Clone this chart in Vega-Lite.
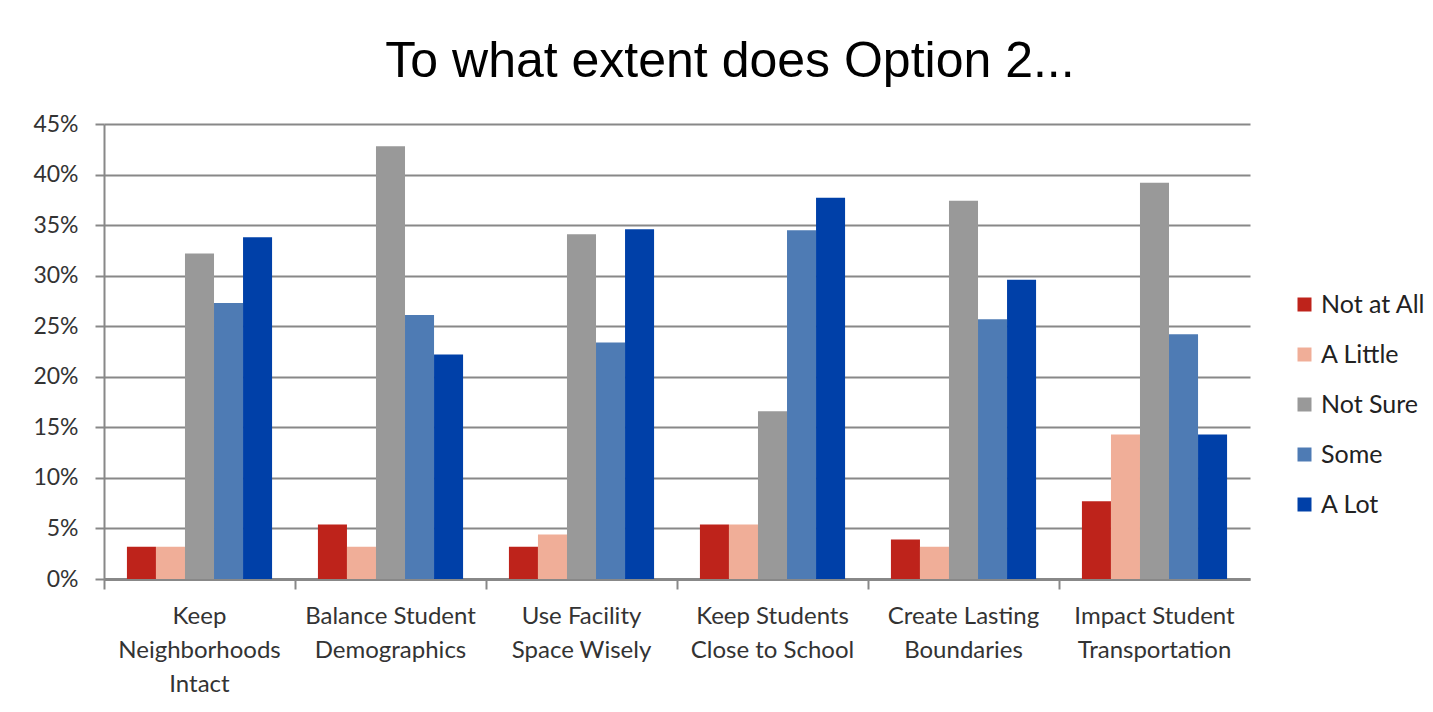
{
  "$schema": "https://vega.github.io/schema/vega-lite/v6.json",
  "autosize": "none",
  "width": 1146,
  "height": 455,
  "padding": {"left": 104, "top": 124, "right": 183, "bottom": 133},
  "background": "white",
  "title": {
    "text": "To what extent does Option 2...",
    "font": "Liberation Sans",
    "fontSize": 50,
    "fontWeight": "normal",
    "color": "#000000",
    "anchor": "middle",
    "dx": 53,
    "offset": 26
  },
  "data": {
    "values": [
      {"category": "Keep Neighborhoods Intact", "response": "Not at All", "value": 0.032},
      {"category": "Keep Neighborhoods Intact", "response": "A Little", "value": 0.032},
      {"category": "Keep Neighborhoods Intact", "response": "Not Sure", "value": 0.322},
      {"category": "Keep Neighborhoods Intact", "response": "Some", "value": 0.273},
      {"category": "Keep Neighborhoods Intact", "response": "A Lot", "value": 0.338},
      {"category": "Balance Student Demographics", "response": "Not at All", "value": 0.054},
      {"category": "Balance Student Demographics", "response": "A Little", "value": 0.032},
      {"category": "Balance Student Demographics", "response": "Not Sure", "value": 0.428},
      {"category": "Balance Student Demographics", "response": "Some", "value": 0.261},
      {"category": "Balance Student Demographics", "response": "A Lot", "value": 0.222},
      {"category": "Use Facility Space Wisely", "response": "Not at All", "value": 0.032},
      {"category": "Use Facility Space Wisely", "response": "A Little", "value": 0.044},
      {"category": "Use Facility Space Wisely", "response": "Not Sure", "value": 0.341},
      {"category": "Use Facility Space Wisely", "response": "Some", "value": 0.234},
      {"category": "Use Facility Space Wisely", "response": "A Lot", "value": 0.346},
      {"category": "Keep Students Close to School", "response": "Not at All", "value": 0.054},
      {"category": "Keep Students Close to School", "response": "A Little", "value": 0.054},
      {"category": "Keep Students Close to School", "response": "Not Sure", "value": 0.166},
      {"category": "Keep Students Close to School", "response": "Some", "value": 0.345},
      {"category": "Keep Students Close to School", "response": "A Lot", "value": 0.377},
      {"category": "Create Lasting Boundaries", "response": "Not at All", "value": 0.039},
      {"category": "Create Lasting Boundaries", "response": "A Little", "value": 0.032},
      {"category": "Create Lasting Boundaries", "response": "Not Sure", "value": 0.374},
      {"category": "Create Lasting Boundaries", "response": "Some", "value": 0.257},
      {"category": "Create Lasting Boundaries", "response": "A Lot", "value": 0.296},
      {"category": "Impact Student Transportation", "response": "Not at All", "value": 0.077},
      {"category": "Impact Student Transportation", "response": "A Little", "value": 0.143},
      {"category": "Impact Student Transportation", "response": "Not Sure", "value": 0.392},
      {"category": "Impact Student Transportation", "response": "Some", "value": 0.242},
      {"category": "Impact Student Transportation", "response": "A Lot", "value": 0.143}
    ]
  },
  "mark": {"type": "bar"},
  "encoding": {
    "x": {
      "field": "category",
      "type": "nominal",
      "sort": null,
      "title": null,
      "scale": {"paddingInner": 0, "paddingOuter": 0},
      "axis": {
        "labelAngle": 0,
        "labelFont": "Lato",
        "labelFontSize": 24,
        "labelColor": "#333333",
        "labelLineHeight": 34,
        "labelPadding": 15,
        "labelLimit": 0,
        "bandPosition": 0,
        "tickSize": 10,
        "tickWidth": 2,
        "tickColor": "#888888",
        "domainColor": "#888888",
        "domainWidth": 3,
        "labelExpr": "{'Keep Neighborhoods Intact': ['Keep', 'Neighborhoods', 'Intact'], 'Balance Student Demographics': ['Balance Student', 'Demographics'], 'Use Facility Space Wisely': ['Use Facility', 'Space Wisely'], 'Keep Students Close to School': ['Keep Students', 'Close to School'], 'Create Lasting Boundaries': ['Create Lasting', 'Boundaries'], 'Impact Student Transportation': ['Impact Student', 'Transportation']}[datum.value]"
      }
    },
    "xOffset": {
      "field": "response",
      "type": "nominal",
      "sort": ["Not at All", "A Little", "Not Sure", "Some", "A Lot"],
      "scale": {"paddingInner": 0, "paddingOuter": 0.79}
    },
    "y": {
      "field": "value",
      "type": "quantitative",
      "title": null,
      "scale": {"domain": [0, 0.45]},
      "axis": {
        "format": ".0%",
        "values": [0, 0.05, 0.1, 0.15, 0.2, 0.25, 0.3, 0.35, 0.4, 0.45],
        "labelFont": "Lato",
        "labelFontSize": 23,
        "labelColor": "#333333",
        "labelPadding": 17,
        "tickSize": 9,
        "tickWidth": 2,
        "tickColor": "#888888",
        "domainColor": "#888888",
        "domainWidth": 2,
        "grid": true,
        "gridColor": "#888888",
        "gridWidth": 2
      }
    },
    "color": {
      "field": "response",
      "type": "nominal",
      "sort": ["Not at All", "A Little", "Not Sure", "Some", "A Lot"],
      "scale": {
        "domain": ["Not at All", "A Little", "Not Sure", "Some", "A Lot"],
        "range": ["#BE231B", "#F0AE98", "#999999", "#4E7BB4", "#0040A8"]
      },
      "legend": {
        "title": null,
        "orient": "none",
        "legendX": 1188,
        "legendY": 168,
        "symbolType": "square",
        "symbolSize": 196,
        "symbolStrokeWidth": 0,
        "labelFont": "Lato",
        "labelFontSize": 25,
        "labelColor": "#222222",
        "labelOffset": 4,
        "rowPadding": 24
      }
    }
  },
  "config": {
    "view": {"stroke": null}
  }
}
